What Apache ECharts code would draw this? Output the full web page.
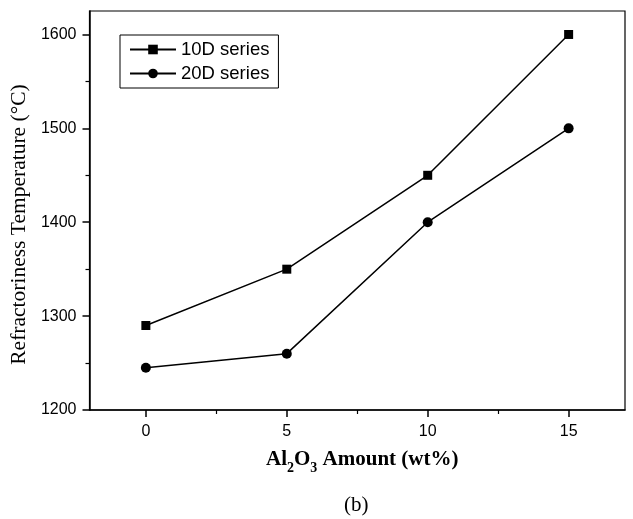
<!DOCTYPE html>
<html>
<head>
<meta charset="utf-8">
<script src="https://cdn.jsdelivr.net/npm/echarts@6/dist/echarts.min.js"></script>
<style>
    html, body { margin: 0; padding: 0; background: #fff; }
    #chart { width: 633px; height: 519px; }
</style>
</head>
<body>
<div id="chart"></div>
<script>
// Al2O3 amount (wt%)
const xValues = [0, 5, 10, 15]
// refractoriness temperature (°C)
const series10D = [1290, 1350, 1450, 1600]
const series20D = [1245, 1260, 1400, 1500]
const xMajorTicks = [0, 5, 10, 15]
const xMinorTicks = [2.5, 7.5, 12.5]
const yMajorTicks = [1200, 1300, 1400, 1500, 1600]
const yMinorTicks = [1250, 1350, 1450, 1550]

const sans = 'Liberation Sans'
const serif = 'Liberation Serif'

let chart = echarts.init(document.getElementById('chart'))

function pairs(ys) {
    return xValues.map((x, i) => [x, ys[i]])
}

let option = {
    backgroundColor: '#fff',
    animation: false,
    grid: {
        left: 87,
        right: 8,
        top: 11,
        bottom: 109,
        show: true,
        borderColor: '#000',
        borderWidth: 1.2
    },
    legend: {
        orient: 'vertical',
        left: 120,
        top: 35,
        padding: [5, 9, 5, 9],
        borderColor: '#000',
        borderWidth: 1,
        itemWidth: 46,
        itemHeight: 12,
        itemGap: 5,
        textStyle: {
            fontFamily: sans,
            fontSize: 18.5,
            color: '#000'
        },
        data: ['10D series', '20D series']
    },
    xAxis: [
        {
            type: 'value',
            min: -2,
            max: 17,
            position: 'bottom',
            axisLine: { onZero: false, lineStyle: { color: '#000', width: 1.5 } },
            axisTick: {
                customValues: xMajorTicks,
                length: 7,
                lineStyle: { color: '#000', width: 1.5 }
            },
            axisLabel: {
                customValues: xMajorTicks,
                margin: 14,
                fontFamily: sans,
                fontSize: 16,
                color: '#000'
            },
            splitLine: { show: false },
            name: 'Al{sub|2}O{sub|3} Amount (wt%)',
            nameLocation: 'middle',
            nameGap: 34,
            nameTextStyle: {
                fontFamily: serif,
                fontWeight: 'bold',
                fontSize: 21,
                lineHeight: 30,
                color: '#000',
                padding: [0, 0, 0, 10],
                rich: {
                    sub: {
                        fontFamily: serif,
                        fontWeight: 'bold',
                        fontSize: 14,
                        lineHeight: 13,
                        verticalAlign: 'bottom',
                        color: '#000'
                    }
                }
            }
        },
        {
            type: 'value',
            min: -2,
            max: 17,
            position: 'bottom',
            axisLine: { show: false, onZero: false },
            axisTick: {
                customValues: xMinorTicks,
                length: 4,
                lineStyle: { color: '#000', width: 1.2 }
            },
            axisLabel: { show: false },
            splitLine: { show: false }
        }
    ],
    yAxis: [
        {
            type: 'value',
            min: 1200,
            max: 1625,
            position: 'left',
            axisLine: { show: true, onZero: false, lineStyle: { color: '#000', width: 1.5 } },
            axisTick: {
                show: true,
                customValues: yMajorTicks,
                length: 7,
                lineStyle: { color: '#000', width: 1.5 }
            },
            axisLabel: {
                customValues: yMajorTicks,
                formatter: v => String(v),
                margin: 13,
                fontFamily: sans,
                fontSize: 16,
                color: '#000'
            },
            splitLine: { show: false },
            name: 'Refractoriness Temperature (°C)',
            nameLocation: 'middle',
            nameGap: 52,
            nameTextStyle: {
                fontFamily: serif,
                fontSize: 21.5,
                color: '#000',
                padding: [0, 28, 0, 0]
            }
        },
        {
            type: 'value',
            min: 1200,
            max: 1625,
            position: 'left',
            axisLine: { show: false, onZero: false },
            axisTick: {
                show: true,
                customValues: yMinorTicks,
                length: 4,
                lineStyle: { color: '#000', width: 1.2 }
            },
            axisLabel: { show: false },
            splitLine: { show: false }
        }
    ],
    graphic: [
        {
            type: 'text',
            left: 344,
            top: 495,
            style: {
                text: '(b)',
                font: '21px "Liberation Serif"',
                fill: '#000'
            }
        }
    ],
    series: [
        {
            name: '10D series',
            type: 'line',
            xAxisIndex: 0,
            yAxisIndex: 0,
            symbol: 'rect',
            symbolSize: 9,
            lineStyle: { color: '#000', width: 1.5 },
            itemStyle: { color: '#000' },
            data: pairs(series10D)
        },
        {
            name: '20D series',
            type: 'line',
            xAxisIndex: 0,
            yAxisIndex: 0,
            symbol: 'circle',
            symbolSize: 10,
            lineStyle: { color: '#000', width: 1.5 },
            itemStyle: { color: '#000' },
            data: pairs(series20D)
        }
    ]
}

chart.setOption(option)
window.addEventListener('resize', function () {
    chart.resize()
})
</script>
</body>
</html>
